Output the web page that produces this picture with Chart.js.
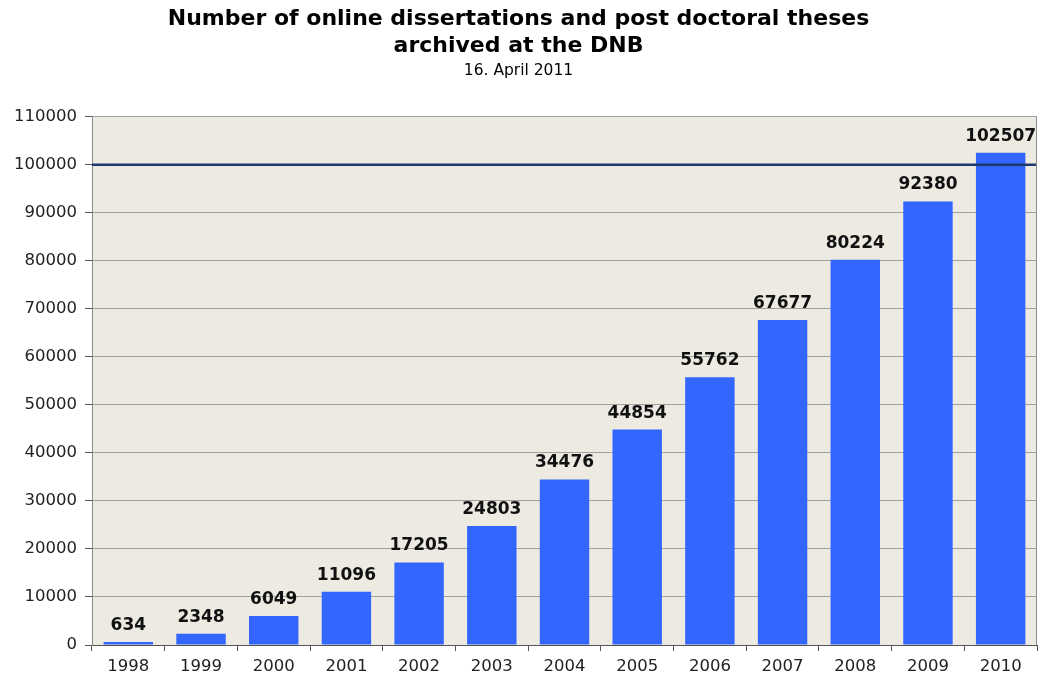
<!DOCTYPE html>
<html>
<head>
<meta charset="utf-8">
<script src="https://cdn.jsdelivr.net/npm/chart.js@4/dist/chart.umd.min.js"></script>
<style>
html,body{margin:0;padding:0;background:#fff;}
#wrap{width:1039px;height:681px;position:relative;}
</style>
</head>
<body>
<div id="wrap"><canvas id="c" width="1039" height="681"></canvas></div>
<script>
const years = ['1998','1999','2000','2001','2002','2003','2004','2005','2006','2007','2008','2009','2010'];
const counts = [634,2348,6049,11096,17205,24803,34476,44854,55762,67677,80224,92380,102507];
const titleLines = ['Number of online dissertations and post doctoral theses','archived at the DNB'];
const subtitleText = '16. April 2011';
const yMin = 0, yMax = 110000, yStep = 10000;
const referenceValue = 100000;

const FONT = "'DejaVu Sans', Verdana, sans-serif";

const bgPlugin = {
  id: 'bgPlugin',
  beforeDraw(chart) {
    const {ctx, chartArea: a} = chart;
    ctx.save();
    ctx.fillStyle = '#ECEAE1';
    ctx.fillRect(a.left, a.top, a.right - a.left, a.bottom - a.top);
    ctx.restore();
  },
  afterDraw(chart) {
    const {ctx, chartArea: a} = chart;
    ctx.save();
    ctx.strokeStyle = '#8a8a8a';
    ctx.lineWidth = 1;
    ctx.beginPath();
    ctx.moveTo(a.right - 0.5, a.top);
    ctx.lineTo(a.right - 0.5, a.bottom);
    ctx.stroke();
    ctx.restore();
  }
};

const labelPlugin = {
  id: 'labelPlugin',
  afterDatasetsDraw(chart) {
    const {ctx} = chart;
    const meta = chart.getDatasetMeta(0);
    ctx.save();
    ctx.font = "bold 17px " + FONT;
    ctx.fillStyle = '#111';
    ctx.textAlign = 'center';
    ctx.textBaseline = 'bottom';
    meta.data.forEach((bar, i) => {
      ctx.fillText(String(counts[i]), bar.x, bar.y - 8);
    });
    ctx.restore();
  }
};

const refLinePlugin = {
  id: 'refLinePlugin',
  afterDatasetsDraw(chart) {
    const {ctx, chartArea: a, scales} = chart;
    const y = scales.y.getPixelForValue(referenceValue);
    ctx.save();
    ctx.strokeStyle = '#1F3A6E';
    ctx.lineWidth = 2.5;
    ctx.beginPath();
    ctx.moveTo(a.left, y);
    ctx.lineTo(a.right, y);
    ctx.stroke();
    ctx.restore();
  }
};

new Chart(document.getElementById('c'), {
  type: 'bar',
  data: {
    labels: years,
    datasets: [{
      data: counts,
      backgroundColor: '#3366FF',
      borderWidth: 0,
      barPercentage: 0.68,
      categoryPercentage: 1.0
    }]
  },
  options: {
    responsive: false,
    animation: false,
    devicePixelRatio: 1,
    layout: {padding: {left: 0, right: 2, top: 0, bottom: 0}},
    plugins: {
      legend: {display: false},
      tooltip: {enabled: false},
      title: {
        display: true,
        text: titleLines,
        color: '#000',
        font: {family: FONT, size: 22, weight: 'bold', lineHeight: 1.22},
        padding: {top: 6, bottom: 0}
      },
      subtitle: {
        display: true,
        text: subtitleText,
        color: '#000',
        font: {family: FONT, size: 15.5, weight: 'normal', lineHeight: 1.2},
        padding: {top: 2, bottom: 36.5}
      }
    },
    scales: {
      x: {
        grid: {display: true, offset: true, drawOnChartArea: false, drawTicks: true, tickLength: 6, color: '#555'},
        border: {display: true, color: '#555'},
        ticks: {color: '#222', font: {family: FONT, size: 16.5}, padding: 6, maxRotation: 0},
        afterFit(s) { s.height = 36; }
      },
      y: {
        min: yMin, max: yMax,
        grid: {color: '#a0a0a0', lineWidth: 1, tickLength: 7, tickColor: '#555'},
        border: {display: true, color: '#8a8a8a'},
        ticks: {stepSize: yStep, color: '#222', font: {family: FONT, size: 16.5}, padding: 8,
          callback: (v) => String(v)},
        afterFit(s) { s.width = 92; }
      }
    }
  },
  plugins: [bgPlugin, refLinePlugin, labelPlugin]
});
</script>
</body>
</html>
